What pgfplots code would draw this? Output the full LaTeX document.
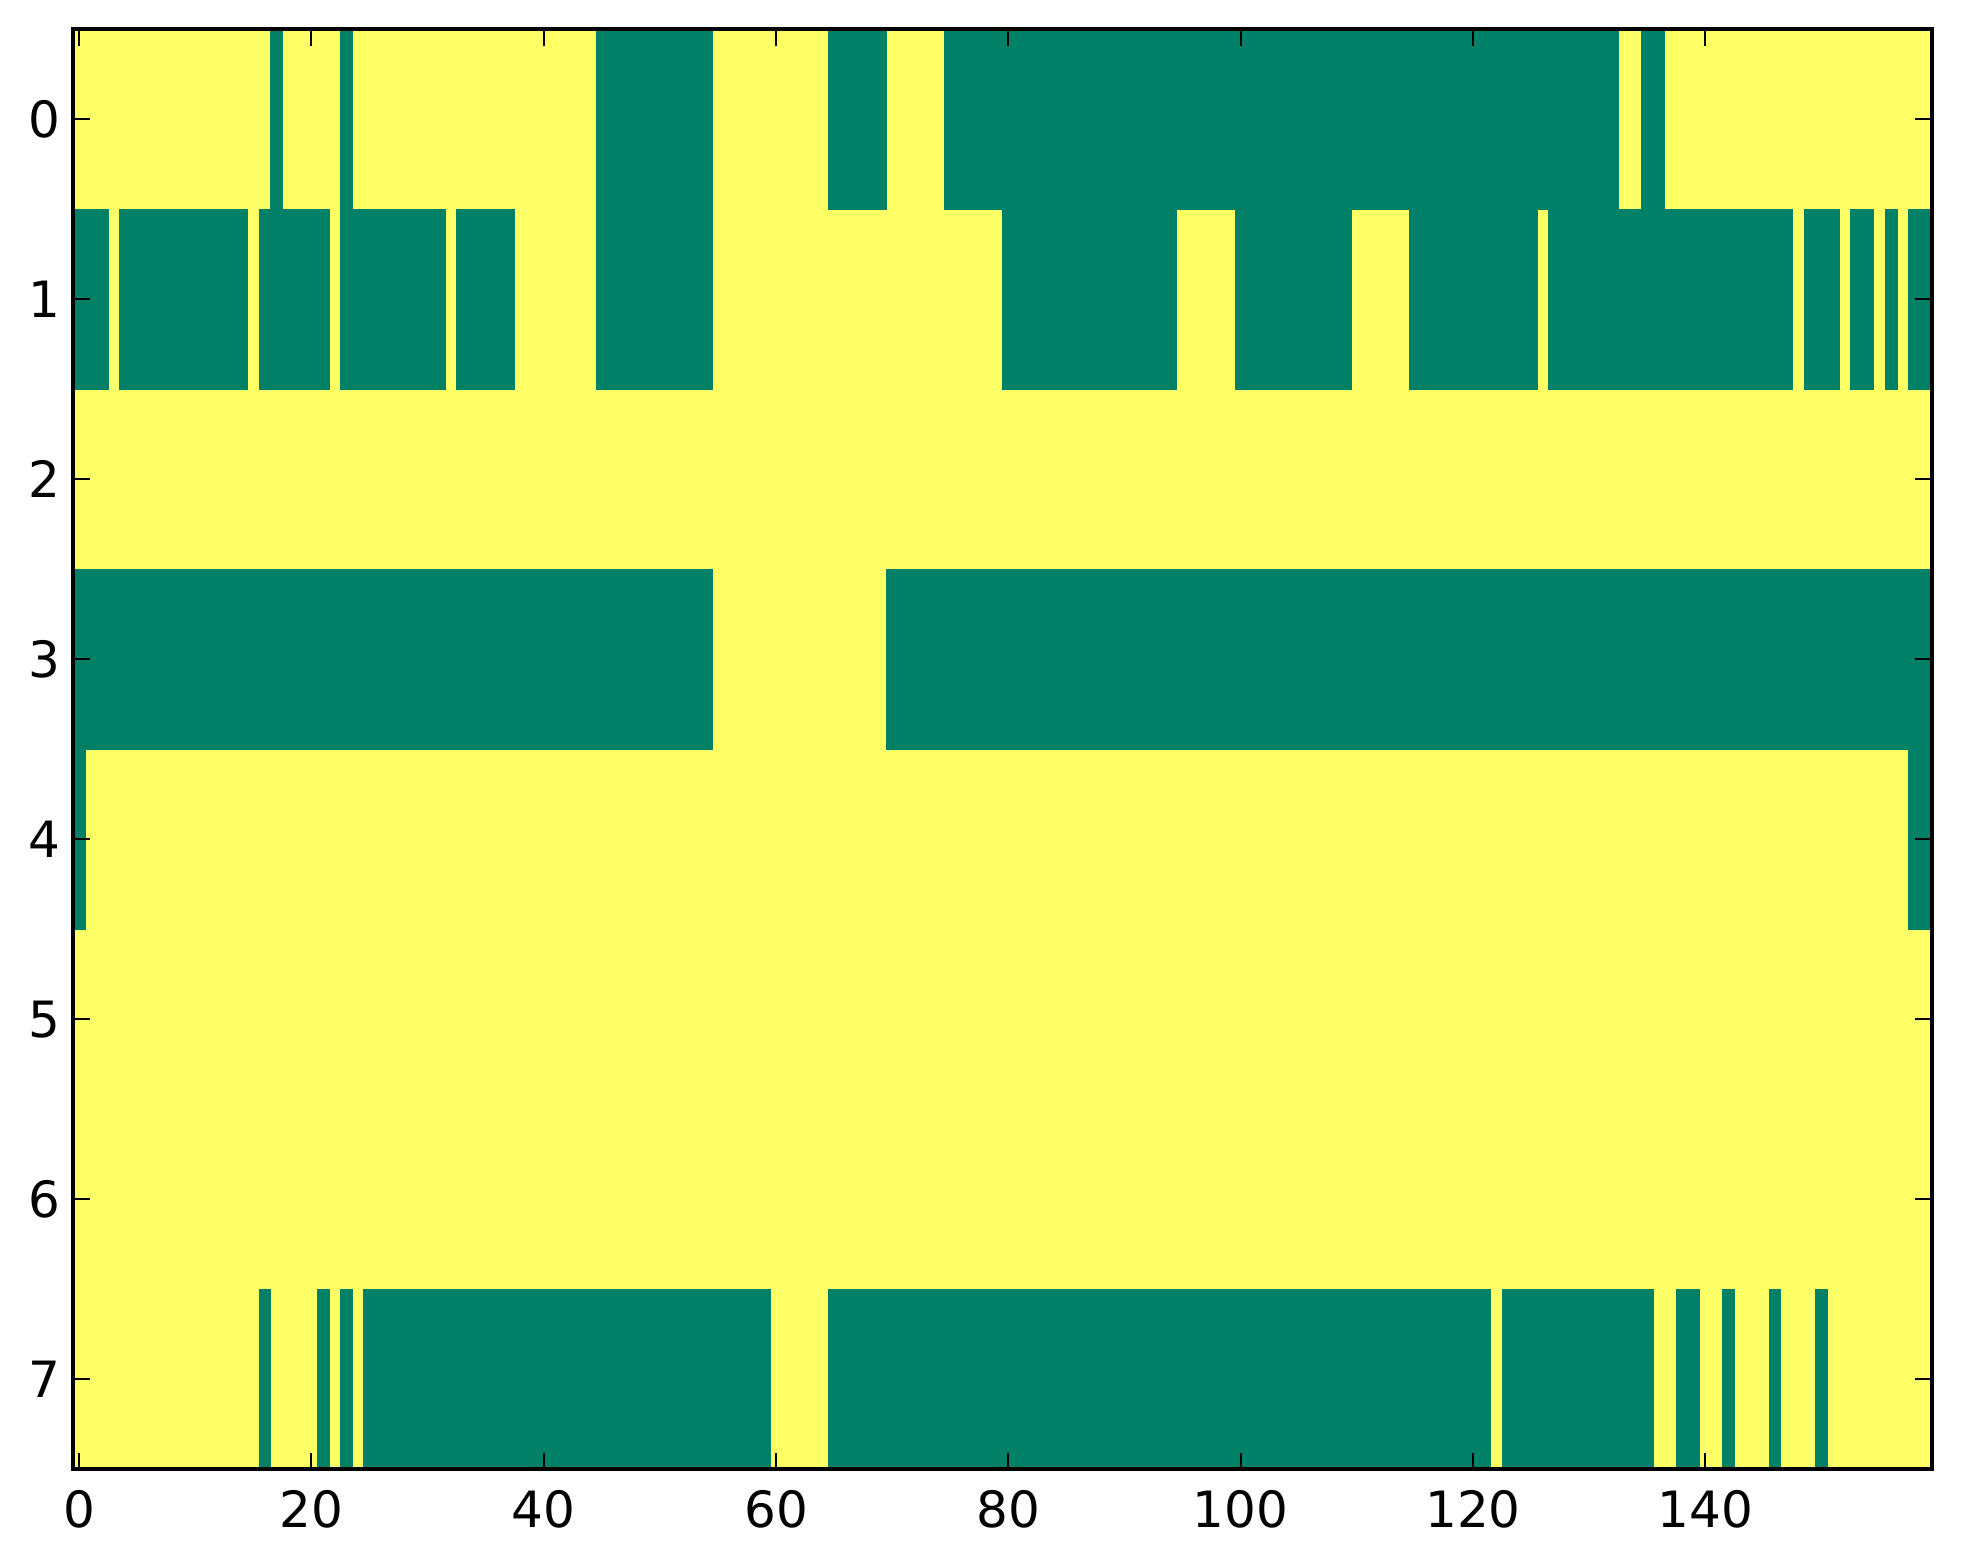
\documentclass[border=0pt]{standalone}
\usepackage{fontspec}
\setmainfont{DejaVu Sans}
\usepackage{pgfplots}
\pgfplotsset{compat=1.18}
\definecolor{smgreen}{rgb}{0,0.5,0.4}
\definecolor{smyellow}{rgb}{1,1,0.4}
% one green run of cells: x from #1 to #2, y from #3 to #4
\newcommand{\run}[4]{\addplot[fill=smgreen, draw=smgreen, line width=0.15pt] coordinates {(#1,#3) (#2,#3) (#2,#4) (#1,#4)} -- cycle;}
\begin{document}
\begin{tikzpicture}
\begin{axis}[
  at={(0,0)}, anchor=south west,
  scale only axis,
  width=446.0pt, height=345.6pt,
  xmin=-0.5, xmax=159.5, ymin=-0.5, ymax=7.5,
  enlargelimits=false,
  y dir=reverse,
  axis on top=true,
  axis background/.style={fill=smyellow},
  xtick={0,20,40,60,80,100,120,140},
  ytick={0,1,2,3,4,5,6,7},
  minor tick num=0,
  tick align=inside,
  tick pos=both,
  major tick length=4pt,
  tick style={line width=0.5pt, black},
  axis line style={line width=1pt},
  /pgf/number format/assume math mode=true,
  ticklabel style={font=\fontsize{12pt}{14pt}\selectfont},
  xticklabel style={inner sep=0pt, yshift=-4.8pt},
  yticklabel style={inner sep=0pt, xshift=-3pt},
]
% row 0
\run{16.5}{17.5}{-0.5}{0.5}
\run{22.5}{23.5}{-0.5}{0.5}
\run{44.5}{54.5}{-0.5}{0.5}
\run{64.5}{69.5}{-0.5}{0.5}
\run{74.5}{132.5}{-0.5}{0.5}
\run{134.5}{136.5}{-0.5}{0.5}
% row 1
\run{-0.5}{2.5}{0.5}{1.5}
\run{3.5}{14.5}{0.5}{1.5}
\run{15.5}{21.5}{0.5}{1.5}
\run{22.5}{31.5}{0.5}{1.5}
\run{32.5}{37.5}{0.5}{1.5}
\run{44.5}{54.5}{0.5}{1.5}
\run{79.5}{94.5}{0.5}{1.5}
\run{99.5}{109.5}{0.5}{1.5}
\run{114.5}{125.5}{0.5}{1.5}
\run{126.5}{147.5}{0.5}{1.5}
\run{148.5}{151.5}{0.5}{1.5}
\run{152.5}{154.5}{0.5}{1.5}
\run{155.5}{156.5}{0.5}{1.5}
\run{157.5}{159.5}{0.5}{1.5}
% row 3
\run{-0.5}{54.5}{2.5}{3.5}
\run{69.5}{159.5}{2.5}{3.5}
% row 4
\run{-0.5}{0.5}{3.5}{4.5}
\run{157.5}{159.5}{3.5}{4.5}
% row 7
\run{15.5}{16.5}{6.5}{7.5}
\run{20.5}{21.5}{6.5}{7.5}
\run{22.5}{23.5}{6.5}{7.5}
\run{24.5}{59.5}{6.5}{7.5}
\run{64.5}{121.5}{6.5}{7.5}
\run{122.5}{135.5}{6.5}{7.5}
\run{137.5}{139.5}{6.5}{7.5}
\run{141.5}{142.5}{6.5}{7.5}
\run{145.5}{146.5}{6.5}{7.5}
\run{149.5}{150.5}{6.5}{7.5}
\end{axis}
\pgfresetboundingbox
\path[use as bounding box] (-17.6pt,-22.8pt) rectangle (453.5pt,352.6pt);
\end{tikzpicture}
\end{document}
